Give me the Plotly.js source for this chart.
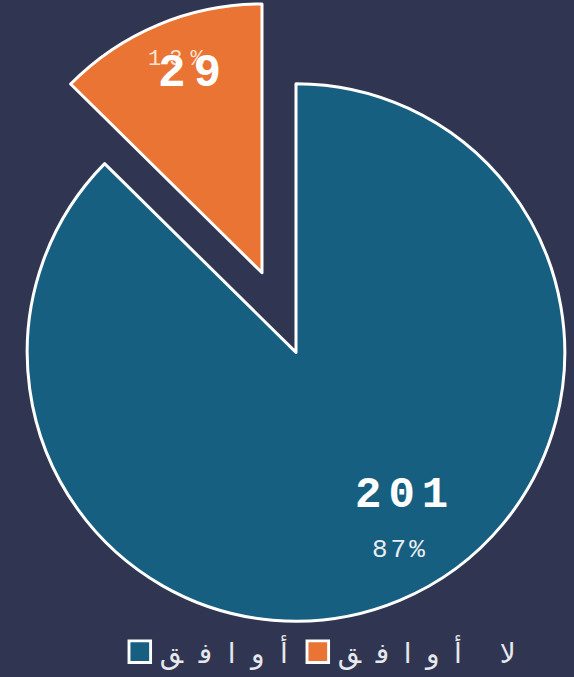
<!DOCTYPE html>
<html>
<head>
<meta charset="utf-8">
<script src="https://cdn.plot.ly/plotly-3.0.1.min.js"></script>
<style>
  html, body { margin:0; padding:0; background:#303651; width:574px; height:677px; overflow:hidden; }
  #chart { position:absolute; left:-20px; top:0; width:594px; height:677px; }
  .legendpie { transform: translate(20px, 0px) scale(1.8); }
  .legend .scrollbox { clip-path: none !important; }
</style>
</head>
<body>
<div id="chart"></div>
<script>
// ---- data ----
const labels = ['أوافق', 'لا أوافق'];
const values = [201, 29];
const colors = ['#175f81', '#ea7434'];

// ---- layout helpers (pixel geometry of the figure) ----
const W = 594, H = 677, OFF = 20;
function domX(cx, r) { return [(cx - r + OFF) / W, (cx + r + OFF) / W]; }
function domY(cy, r) { return [(H - (cy + r)) / H, (H - (cy - r)) / H]; }
const R = 270;
const bigC = [296, 354];        // main pie centre
const pulledC = [262, 274];     // exploded slice centre

const total = values.reduce((a, b) => a + b, 0);
const pct = values.map(v => Math.round(v / total * 100) + '%');
const clear = 'rgba(0,0,0,0)';
const common = {
  type: 'pie', labels: labels, values: values, sort: false,
  direction: 'clockwise', rotation: 0, textinfo: 'none', hoverinfo: 'none'
};

const data = [
  // legend carrier (tiny, hidden under main pie)
  Object.assign({}, common, {
    domain: { x: domX(360, 0.2), y: domY(460, 0.2) },
    marker: { colors: colors, line: { color: '#ffffff', width: 1.6 } },
    showlegend: true
  }),
  // main slice
  Object.assign({}, common, {
    domain: { x: domX(bigC[0], R), y: domY(bigC[1], R) },
    marker: { colors: [colors[0], clear], line: { color: ['#ffffff', clear], width: [3, 0] } },
    showlegend: false
  }),
  // exploded slice
  Object.assign({}, common, {
    domain: { x: domX(pulledC[0], R), y: domY(pulledC[1], R) },
    marker: { colors: [clear, colors[1]], line: { color: [clear, '#ffffff'], width: [0, 3] } },
    showlegend: false
  })
];

const numFont = { family: 'Liberation Mono, DejaVu Sans Mono, monospace', color: '#ffffff' };
function sp(t, s) { return '<span style="letter-spacing:' + s + 'px">' + t + '</span>'; }
const annotations = [
  { x: (400 + OFF) / W, y: (H - 552) / H, text: sp(pct[0], 3), font: Object.assign({}, numFont, { size: 26, color: '#e8eef2' }) },
  { x: (405 + OFF) / W, y: (H - 497) / H, text: sp('<b>' + values[0] + '</b>', 7), font: Object.assign({}, numFont, { size: 44 }) },
  { x: (180 + OFF) / W, y: (H - 60) / H, text: sp(pct[1], 8), font: Object.assign({}, numFont, { size: 22, color: '#fbe3d3' }) },
  { x: (193 + OFF) / W, y: (H - 74) / H, text: sp('<b>' + values[1] + '</b>', 8), font: Object.assign({}, numFont, { size: 46 }) }
].map(a => Object.assign({ xref: 'paper', yref: 'paper', showarrow: false, xanchor: 'center', yanchor: 'middle' }, a));

const layout = {
  width: W, height: H,
  margin: { l: 0, r: 0, t: 0, b: 0 },
  paper_bgcolor: '#303651',
  plot_bgcolor: '#303651',
  showlegend: true,
  legend: {
    orientation: 'h', x: (321 + OFF) / W, xanchor: 'center', y: (H - 655) / H, yanchor: 'middle',
    bgcolor: clear, font: { family: 'DejaVu Sans, Noto Sans, sans-serif', size: 28, color: '#e6e8ec' },
    itemclick: false, itemdoubleclick: false
  },
  annotations: annotations
};

// legend item spread (box left edge, text length) to mimic the letter-spaced legend
const legendBoxLeft = [129, 307];
const legendTextLen = [128, 178];

const gd = document.getElementById('chart');
Plotly.newPlot(gd, data, layout, { displayModeBar: false, staticPlot: true }).then(function () {
  const sb = gd.querySelector('.legend .scrollbox');
  if (sb) sb.removeAttribute('clip-path');
  const items = gd.querySelectorAll('.legend .traces');
  items.forEach(function (g, i) {
    if (i >= legendBoxLeft.length) return;
    const t = g.querySelector('.legendtext');
    if (t) {
      t.setAttribute('textLength', legendTextLen[i]);
      t.setAttribute('lengthAdjust', 'spacing');
    }
    const box = g.querySelector('.legendpie');
    if (!box) return;
    const dx = legendBoxLeft[i] - box.getBoundingClientRect().left;
    const m = /translate\(\s*([-\d.e]+)[ ,]+([-\d.e]+)\s*\)/.exec(g.getAttribute('transform') || '');
    const x0 = m ? parseFloat(m[1]) : 0, y0 = m ? parseFloat(m[2]) : 0;
    g.setAttribute('transform', 'translate(' + (x0 + dx) + ',' + y0 + ')');
  });
});
</script>
</body>
</html>
